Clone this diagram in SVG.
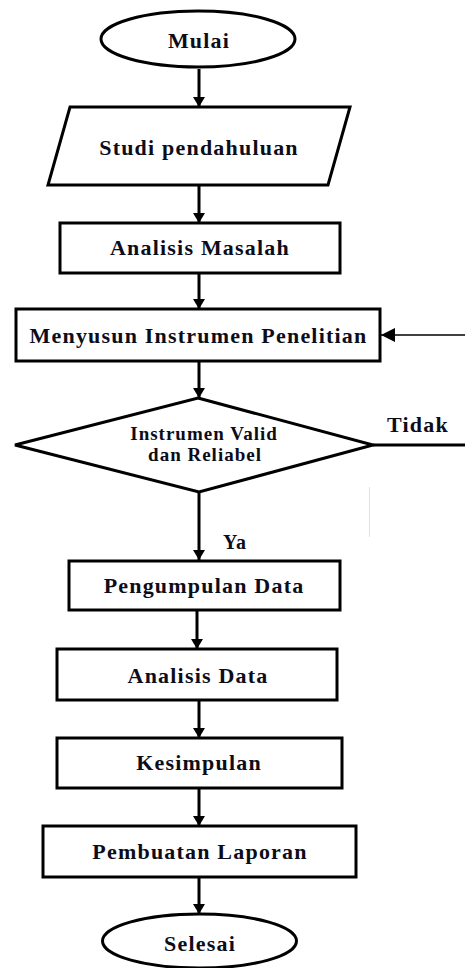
<svg xmlns="http://www.w3.org/2000/svg" width="465" height="968" viewBox="0 0 465 968">
<defs>
<style>
.shape{fill:#fff;stroke:#000;stroke-width:3}
.t{font-family:"Liberation Serif","Times New Roman",serif;font-weight:bold;font-size:22px;letter-spacing:1.2px;fill:#0d0d1a;text-anchor:middle}
.ts{font-size:19px;letter-spacing:1px}
.ty{font-size:20px;letter-spacing:1px}
.c{stroke:#000;stroke-width:3;fill:none}
.thin{stroke:#000;stroke-width:1.3;fill:none}
</style>
<marker id="ah" viewBox="0 0 10 12" refX="10" refY="6" markerWidth="10" markerHeight="12" markerUnits="userSpaceOnUse" orient="auto">
<path d="M0,0 L10,6 L0,12 z" fill="#000"/>
</marker>
<marker id="ahb" viewBox="0 0 14 14" refX="14" refY="7" markerWidth="14" markerHeight="14" markerUnits="userSpaceOnUse" orient="auto">
<path d="M0,0 L14,7 L0,14 z" fill="#000"/>
</marker>
</defs>
<g id="connectors">
<line class="c" x1="199" y1="69" x2="199" y2="107" marker-end="url(#ah)"/>
<line class="c" x1="199" y1="186" x2="199" y2="223" marker-end="url(#ah)"/>
<line class="c" x1="199" y1="274" x2="199" y2="309" marker-end="url(#ah)"/>
<line class="c" x1="199" y1="362" x2="199" y2="398" marker-end="url(#ah)"/>
<line class="c" x1="199" y1="493" x2="199" y2="560" marker-end="url(#ah)"/>
<line class="c" x1="197" y1="611" x2="197" y2="649" marker-end="url(#ah)"/>
<line class="c" x1="199" y1="701" x2="199" y2="738" marker-end="url(#ah)"/>
<line class="c" x1="199" y1="789" x2="199" y2="826" marker-end="url(#ah)"/>
<line class="c" x1="199" y1="878" x2="199" y2="914" marker-end="url(#ah)"/>
<line class="c" x1="373" y1="445" x2="465" y2="445"/>
<line class="thin" x1="465" y1="335" x2="381" y2="335" marker-end="url(#ahb)"/>
<line x1="369.5" y1="487" x2="369.5" y2="537" stroke="#e2e2e2" stroke-width="1"/>
<text class="t" x="418" y="432">Tidak</text>
<text class="t ty" x="235" y="549">Ya</text>
</g>
<g id="mulai">
<ellipse class="shape" cx="198" cy="39" rx="97" ry="28"/>
<text class="t" x="199" y="48">Mulai</text>
</g>
<g id="studi">
<polygon class="shape" points="70,107 350,107 328,185 48,185"/>
<text class="t" x="199" y="155">Studi pendahuluan</text>
</g>
<g id="analisis-masalah">
<rect class="shape" x="60" y="223" width="280" height="50"/>
<text class="t" x="200" y="255">Analisis Masalah</text>
</g>
<g id="menyusun">
<rect class="shape" x="16" y="309" width="364" height="52"/>
<text class="t" x="198.5" y="343">Menyusun Instrumen Penelitian</text>
</g>
<g id="decision">
<polygon class="shape" points="198,398 373,445 199,492 15,445"/>
<text class="t ts" x="204" y="440">Instrumen Valid</text>
<text class="t ts" x="205" y="461">dan Reliabel</text>
</g>
<g id="pengumpulan">
<rect class="shape" x="69" y="561" width="271" height="49"/>
<text class="t" x="204" y="593">Pengumpulan Data</text>
</g>
<g id="analisis-data">
<rect class="shape" x="57" y="649" width="280" height="51"/>
<text class="t" x="198" y="683">Analisis Data</text>
</g>
<g id="kesimpulan">
<rect class="shape" x="57" y="738" width="285" height="50"/>
<text class="t" x="199" y="770">Kesimpulan</text>
</g>
<g id="laporan">
<rect class="shape" x="43" y="826" width="313" height="51"/>
<text class="t" x="200" y="859">Pembuatan Laporan</text>
</g>
<g id="selesai">
<ellipse class="shape" cx="199.5" cy="941" rx="97" ry="27"/>
<text class="t" x="200" y="951">Selesai</text>
</g>
</svg>
